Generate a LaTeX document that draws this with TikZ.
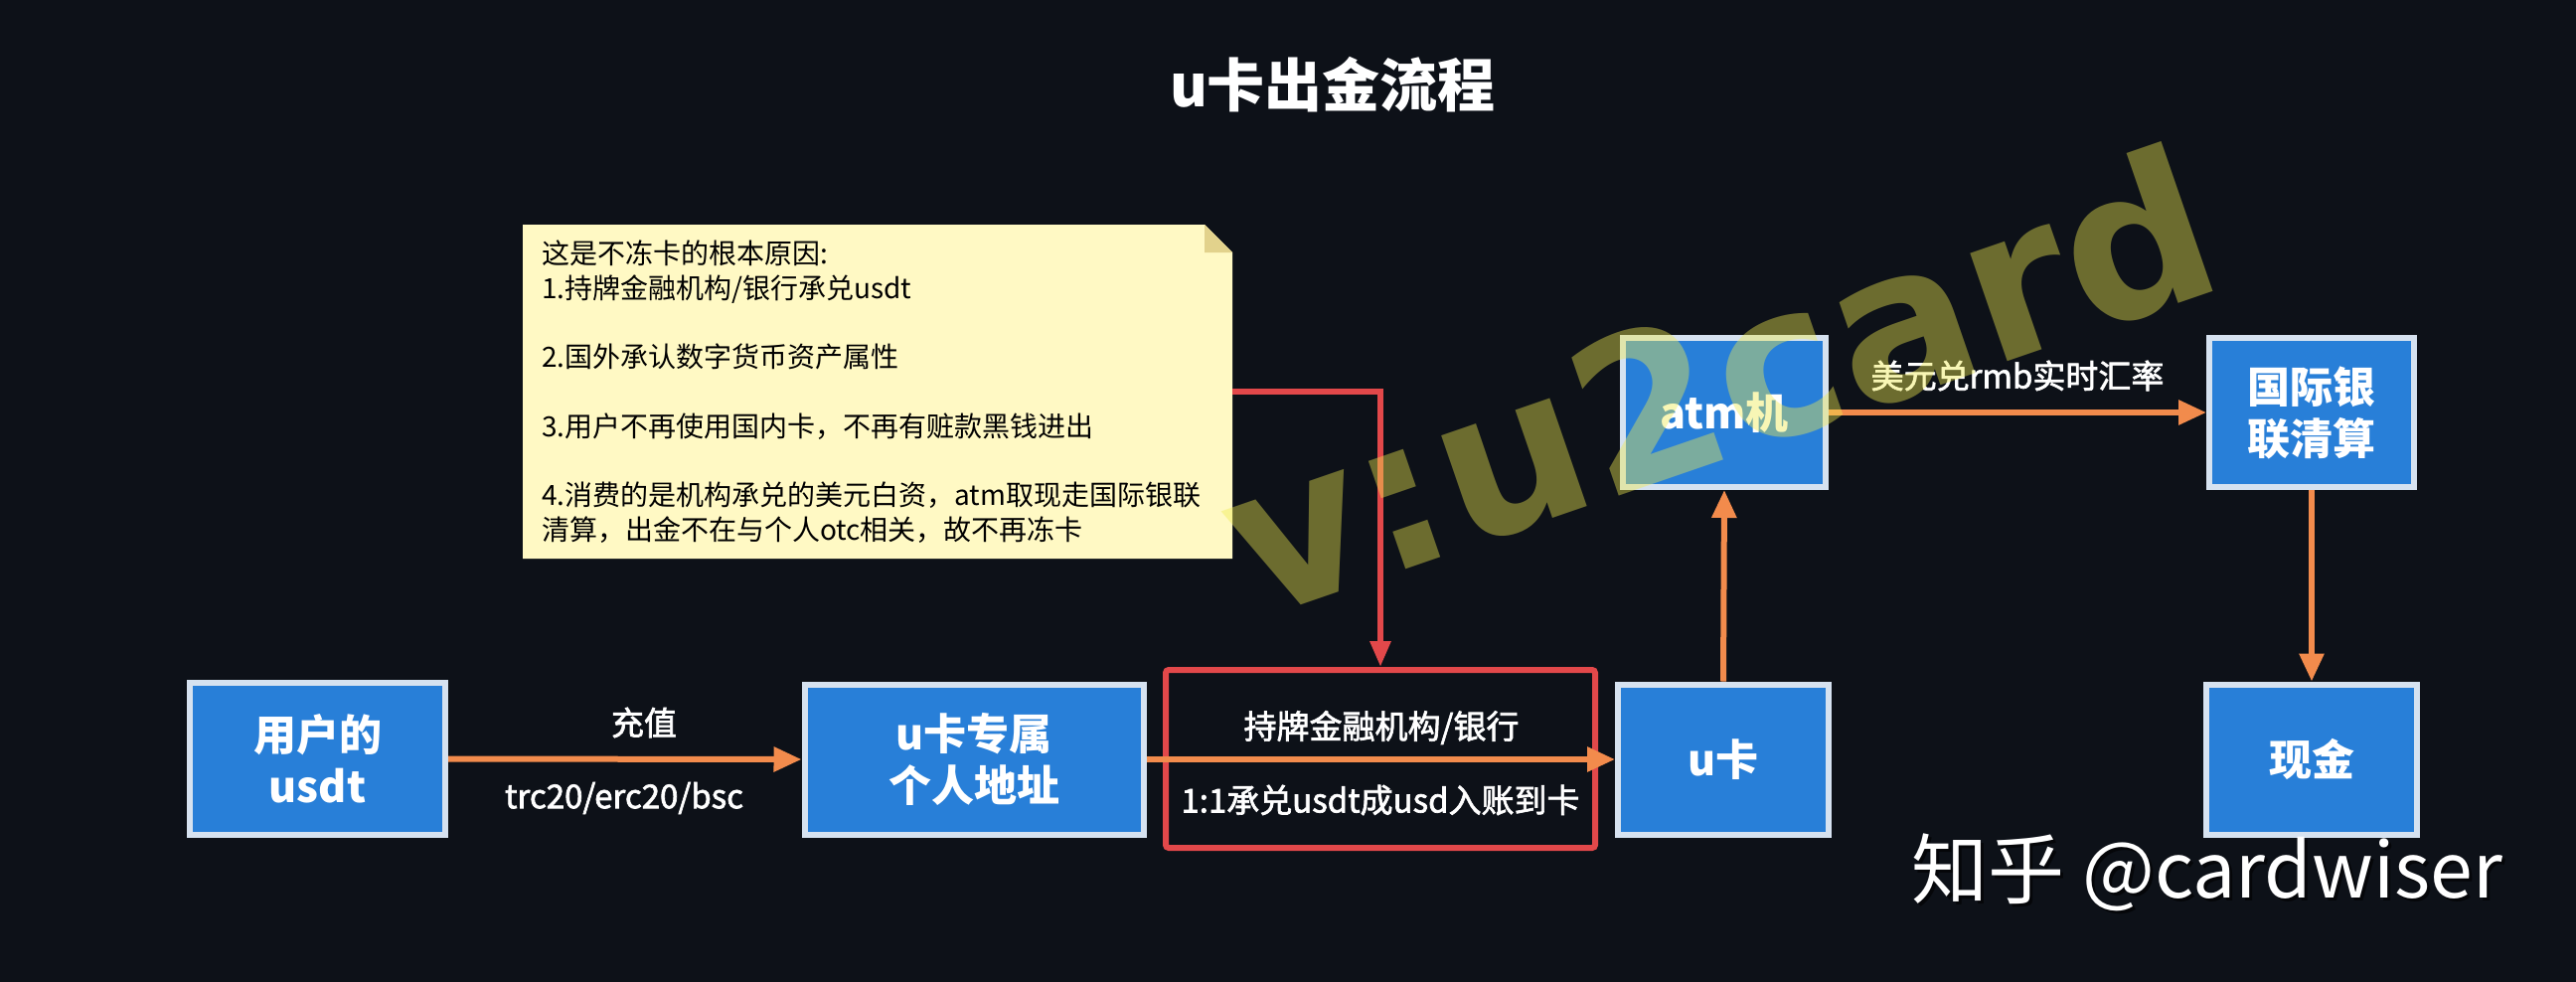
\documentclass[tikz,border=0pt]{standalone}
\usepackage{fontspec}
\setmainfont{Noto Sans CJK SC}
\newfontfamily\wmfont{DejaVu Sans}
\newfontfamily\medfont{Noto Sans CJK SC}[FakeBold=2]
\usetikzlibrary{arrows.meta}
\definecolor{bg}{RGB}{13,17,24}
\definecolor{boxblue}{RGB}{40,127,216}
\definecolor{boxline}{RGB}{214,226,240}
\definecolor{arr}{RGB}{242,139,76}
\definecolor{redl}{RGB}{226,72,74}
\definecolor{notey}{RGB}{255,249,196}
\definecolor{notefold}{RGB}{226,210,140}
\definecolor{wm}{RGB}{240,235,80}
\tikzset{
  box/.style={draw=boxline, line width=6pt, fill=boxblue, text=white,
    font=\bfseries\fontsize{43}{52}\selectfont, align=center, inner sep=0pt},
  flow/.style={draw=arr, line width=6pt, -{Triangle[length=28pt,width=24pt]}},
  redarrow/.style={draw=redl, line width=6pt, -{Triangle[length=26pt,width=20pt]}},
  lbl/.style={text=white, font=\medfont\fontsize{33}{40}\selectfont, inner sep=0pt},
  notetext/.style={text=black, font=\fontsize{28}{34.7}\selectfont, align=left,
    text width=676pt, inner sep=0pt, minimum width=714pt, minimum height=336pt}
}
\begin{document}
\begin{tikzpicture}[x=1pt,y=-1pt]
\useasboundingbox (0,0) rectangle (2592,988);
\fill[bg] (0,0) rectangle (2592,988);

% title
\node[font=\bfseries\fontsize{58}{60}\selectfont, text=white] (title) at (1341,85) {u卡出金流程};

% sticky note
\fill[notey] (526,226) -- (1212,226) -- (1240,254) -- (1240,562) -- (526,562) -- cycle;
\fill[notefold] (1212,226) -- (1212,254) -- (1240,254) -- cycle;
\node[notetext] (note) at (883,394) {这是不冻卡的根本原因:\\
1.持牌金融机构/银行承兑usdt\\[34.7pt]
2.国外承认数字货币资产属性\\[34.7pt]
3.用户不再使用国内卡，不再有赃款黑钱进出\\[34.7pt]
4.消费的是机构承兑的美元白资，atm取现走国际银联\\
清算，出金不在与个人otc相关，故不再冻卡};

% boxes
\node[box, minimum width=257pt, minimum height=153pt] (usdt) at (319.5,763.5) {用户的\\usdt};
\node[box, minimum width=341pt, minimum height=151pt] (addr) at (980,764) {u卡专属\\个人地址};
\node[box, minimum width=212pt, minimum height=151pt] (ucard) at (1734,764) {u卡};
\node[box, minimum width=204pt, minimum height=150pt] (atm) at (1735,415) {atm机};
\node[box, minimum width=206pt, minimum height=150pt] (union) at (2326,415) {国际银\\联清算};
\node[box, minimum width=212pt, minimum height=151pt] (cash) at (2326,764) {现金};

% red institution box
\node[draw=redl, line width=6pt, rounded corners=3pt, minimum width=432pt, minimum height=179pt] (redbox) at (1389,763.5) {};

% connectors
\draw[redarrow] (note.east) -| (redbox.north);
\draw[flow] (usdt.east) -- (addr.west);
\draw[flow] (addr.east) -- (ucard.west);
\draw[flow] (ucard.north) -- (atm.south);
\draw[flow] (atm.east) -- (union.west);
\draw[flow] (union.south) -- (cash.north);

% labels
\node[lbl] (l1) at (648,727) {充值};
\node[lbl] (l2) at (628,803) {trc20/erc20/bsc};
\node[lbl] (l3) at (1390,732) {持牌金融机构/银行};
\node[lbl] (l4) at (1389,805) {1:1承兑usdt成usd入账到卡};
\node[lbl] (l5) at (2030,378) {美元兑rmb实时汇率};

% zhihu mark
\node[font=\fontsize{77}{80}\selectfont, text=black, opacity=0.6] (zhs) at (2224,881) {知乎 @cardwiser};
\node[font=\fontsize{77}{80}\selectfont, text=white] (zh) at (2221,878) {知乎 @cardwiser};

% watermark
\node[font=\wmfont\bfseries\fontsize{210}{210}\selectfont, text=wm, text opacity=0.42, rotate=19] (wmk) at (1728,382) {v:u2card};
\end{tikzpicture}
\end{document}
